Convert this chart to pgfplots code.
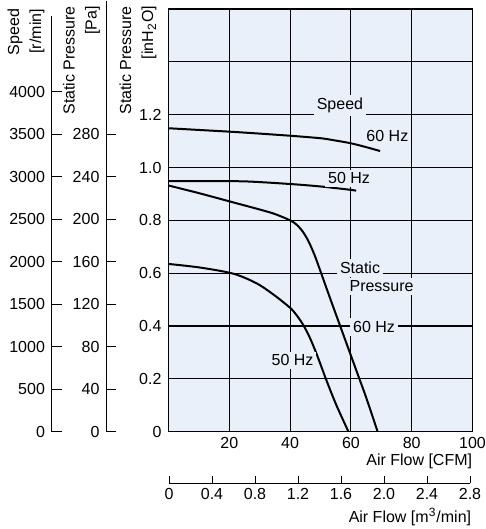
\documentclass[border=0pt]{standalone}
\usepackage{pgfplots}
\pgfplotsset{compat=1.18}
\usepackage{fontspec}
\setmainfont{Liberation Sans}
\definecolor{bgblue}{RGB}{233,240,250}
\newcommand\f{\fontsize{8}{11}\selectfont}
\begin{document}
\begin{tikzpicture}[font=\f]
% main axis (inH2O vs CFM)
\begin{axis}[
  at={(0pt,0pt)}, anchor=south west,
  scale only axis, width=152pt, height=211.35pt,
  xmin=0, xmax=100, ymin=0, ymax=1.6,
  axis background/.style={fill=bgblue},
  xtick={0,20,40,60,80,100}, xticklabels={,20,40,60,80,100},
  ytick={0,0.2,0.4,0.6,0.8,1.0,1.2,1.4,1.6},
  yticklabels={0,0.2,0.4,0.6,0.8,1.0,1.2,,},
  xtick pos=bottom, ytick pos=left,
  tick align=inside, major tick length=2pt,
  tick style={black, line width=0.5pt},
  grid=major, major grid style={black, line width=0.55pt},
  axis line style={black, line width=0.8pt},
  xticklabel style={yshift=0.8pt},
]
\addplot[black, line width=1pt, smooth, tension=0.5] coordinates {
(0,0.932)(10,0.903)(20,0.872)(30,0.841)(35,0.824)
(40,0.800)(42,0.785)(44,0.760)(46,0.722)(48,0.670)(50,0.607)(53,0.510)
(56,0.415)(59,0.320)(62,0.225)(65,0.130)(68.8,0)};
\addplot[black, line width=1pt, smooth, tension=0.5] coordinates {
(0,0.635)(10,0.622)(20,0.602)(25,0.583)(30,0.555)(35,0.515)
(40,0.469)(42,0.443)(44,0.410)(46,0.368)(48,0.315)(50,0.255)(52,0.193)
(55.2,0.101)(59.2,0)};
\end{axis}
% speed data overlay (r/min vs CFM)
\begin{axis}[
  at={(0pt,0pt)}, anchor=south west,
  scale only axis, width=152pt, height=211.35pt,
  xmin=0, xmax=100, ymin=0, ymax=4973, hide axis,
]
\addplot[black, line width=1pt, smooth, tension=0.5] coordinates {
(0,3570)(10,3550)(20,3530)(30,3507)(40,3482)(45,3468)(50.7,3450)(55,3425)
(60,3393)(65,3348)(69.6,3302)};
\addplot[black, line width=1pt, smooth, tension=0.5] coordinates {
(0,2947)(10,2947)(25,2945)(40,2914)(50,2885)(60,2845)(61.7,2835)};
\end{axis}
% labels inside the plot
\begin{axis}[
  at={(0pt,0pt)}, anchor=south west,
  scale only axis, width=152pt, height=211.35pt,
  xmin=0, xmax=100, ymin=0, ymax=1.6, hide axis, clip=false,
]
\tikzset{lab/.style={fill=bgblue, inner sep=1.5pt}}
\node[lab] at (axis cs:56.4,1.235) {Speed};
\node[lab] at (axis cs:72.0,1.119) {60 Hz};
\node[lab] at (axis cs:59.4,0.959) {50 Hz};
\node[lab] at (axis cs:63.0,0.621) {Static};
\node[lab] at (axis cs:70.1,0.551) {Pressure};
\node[lab] at (axis cs:67.6,0.396) {60 Hz};
\node[lab] at (axis cs:40.8,0.270) {50 Hz};
\end{axis}
% speed scale
\begin{axis}[
  at={(-58.25pt,0pt)}, anchor=south west,
  scale only axis, width=1pt, height=208pt,
  xmin=0, xmax=1, ymin=0, ymax=4894,
  axis x line=none, axis y line=left,
  axis line style={-, black, line width=0.5pt},
  ytick={0,500,1000,1500,2000,2500,3000,3500,4000},
  yticklabels={0,500,1000,1500,2000,2500,3000,3500,4000},
  tick align=inside, major tick length=5pt,
  tick style={black, line width=0.5pt},
]
\end{axis}
% Pa scale
\begin{axis}[
  at={(-31pt,0pt)}, anchor=south west,
  scale only axis, width=1pt, height=215.5pt,
  xmin=0, xmax=1, ymin=0, ymax=405.6,
  axis x line=none, axis y line=left,
  axis line style={-, black, line width=0.5pt},
  ytick={0,40,80,120,160,200,240,280},
  yticklabels={0,40,80,120,160,200,240,280},
  tick align=inside, major tick length=5pt,
  tick style={black, line width=0.5pt},
]
\end{axis}
% m3/min scale
\begin{axis}[
  at={(0.25pt,-25.65pt)}, anchor=south west,
  scale only axis, width=150.5pt, height=1pt,
  xmin=0, xmax=2.8, ymin=0, ymax=1,
  axis y line=none, axis x line=bottom,
  axis line style={-, black, line width=0.5pt},
  xtick={0,0.4,0.8,1.2,1.6,2.0,2.4,2.8},
  xticklabels={0,0.4,0.8,1.2,1.6,2.0,2.4,2.8},
  tick align=inside, major tick length=3.5pt,
  tick style={black, line width=0.5pt},
  xticklabel style={yshift=1pt},
]
\end{axis}
% titles
\node[anchor=east, inner sep=0pt] at (152pt,-14.6pt) {Air Flow [CFM]};
\node[anchor=east, inner sep=0pt] at (151.5pt,-42.5pt) {Air Flow [m\textsuperscript{3}/min]};
\node[rotate=90, anchor=east, align=right, inner sep=0pt] at (-71.25pt,211.5pt) {Speed\\{[r/min]}};
\node[rotate=90, anchor=east, align=right, inner sep=0pt] at (-43.5pt,213pt) {Static Pressure\\{[Pa]}};
\node[rotate=90, anchor=east, align=right, inner sep=0pt] at (-15.25pt,213pt) {Static Pressure\\{[inH\textsubscript{2}O]}};
\pgfresetboundingbox
\path[use as bounding box] (-84.25pt,-48.65pt) rectangle (158.75pt,215.85pt);
\end{tikzpicture}
\end{document}
